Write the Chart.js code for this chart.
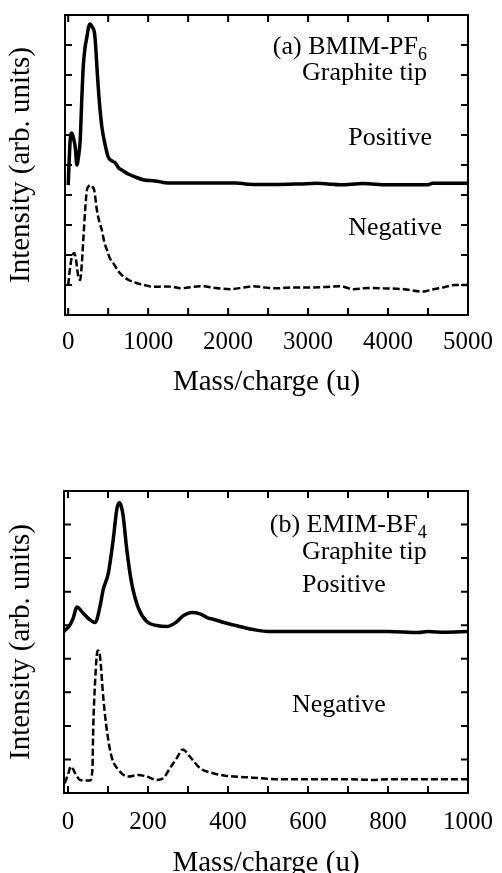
<!DOCTYPE html>
<html>
<head>
<meta charset="UTF-8">
<title>Mass spectra</title>
<script src="https://cdn.jsdelivr.net/npm/chart.js"></script>
<style>
  body { margin: 0; background: #fff; }
  canvas { position: absolute; left: 0; }
  #chartA { top: 0; }
  #chartB { top: 437px; }
</style>
</head>
<body>
<canvas id="chartA" width="502" height="437"></canvas>
<canvas id="chartB" width="502" height="436"></canvas>
<script>
// (a) BMIM-PF6, positive
const mzA_pos  = [0, 25, 46, 70, 88, 109, 130, 150, 170, 188, 210, 234, 255, 275, 300, 329, 345, 359, 390, 421, 460, 500, 540, 588, 630, 671, 750, 838, 950, 1088, 1250, 1500, 1800, 2100, 2250, 2625, 2900, 3110, 3250, 3400, 3690, 3990, 4200, 4490, 4560, 4800, 5000];
const intA_pos = [4.33, 5.83, 6.07, 5.85, 5.6, 5.0, 5.3, 5.83, 7.2, 8.27, 8.9, 9.27, 9.6, 9.7, 9.6, 9.4, 8.9, 8.27, 7.1, 6.27, 5.7, 5.27, 5.15, 5.07, 4.9, 4.83, 4.7, 4.6, 4.5, 4.47, 4.4, 4.4, 4.4, 4.4, 4.36, 4.35, 4.37, 4.39, 4.37, 4.34, 4.38, 4.34, 4.34, 4.34, 4.39, 4.39, 4.39];
// (a) BMIM-PF6, negative
const mzA_neg  = [0, 20, 46, 75, 100, 125, 150, 170, 191, 212, 234, 260, 284, 310, 325, 359, 390, 421, 450, 484, 520, 566, 630, 691, 770, 859, 950, 1063, 1200, 1313, 1400, 1650, 1850, 2025, 2200, 2317, 2450, 2610, 2800, 3025, 3200, 3400, 3567, 3750, 3940, 4200, 4440, 4550, 4690, 4840, 5000];
const intA_neg = [1.0, 1.5, 1.94, 2.07, 1.8, 1.3, 1.17, 1.7, 2.6, 3.5, 4.17, 4.3, 4.33, 4.25, 4.17, 3.5, 3.1, 2.83, 2.45, 2.17, 1.9, 1.72, 1.45, 1.28, 1.15, 1.06, 1.0, 0.94, 0.95, 0.94, 0.89, 0.96, 0.9, 0.86, 0.92, 0.96, 0.92, 0.89, 0.92, 0.92, 0.93, 0.96, 0.86, 0.9, 0.89, 0.86, 0.78, 0.85, 0.92, 1.0, 1.0];

// (b) EMIM-BF4, positive
const mzB_pos  = [-10, 5, 13, 22, 38, 55, 68, 80, 88, 101, 113, 122, 128, 133, 138, 147, 159, 176, 197, 222, 247, 268, 288, 309, 330, 351, 363, 390, 413, 440, 463, 505, 600, 700, 800, 876, 900, 943, 1000];
const intB_pos = [4.81, 5.01, 5.21, 5.54, 5.36, 5.16, 5.08, 5.56, 6.06, 6.56, 7.55, 8.45, 8.65, 8.55, 8.25, 7.25, 6.26, 5.51, 5.11, 4.99, 4.96, 5.07, 5.28, 5.38, 5.34, 5.21, 5.18, 5.08, 5.01, 4.93, 4.87, 4.81, 4.81, 4.81, 4.81, 4.78, 4.81, 4.79, 4.81];
// (b) EMIM-BF4, negative
const mzB_neg  = [-8, 1, 7, 18, 30, 55, 61, 63, 68, 74, 80, 88, 97, 109, 126, 151, 176, 197, 222, 238, 255, 272, 287, 305, 330, 363, 397, 447, 480, 520, 600, 700, 760, 800, 1000];
const intB_neg = [0.29, 0.59, 0.79, 0.59, 0.39, 0.37, 0.69, 1.88, 3.37, 4.25, 4.07, 2.87, 1.88, 1.08, 0.69, 0.49, 0.54, 0.49, 0.39, 0.44, 0.74, 1.04, 1.3, 1.08, 0.74, 0.59, 0.51, 0.47, 0.44, 0.41, 0.41, 0.41, 0.39, 0.41, 0.41];

// tick positions and labels
const xTicksA  = [0, 500, 1000, 1500, 2000, 2500, 3000, 3500, 4000, 4500, 5000];
const xLabelsA = [0, 1000, 2000, 3000, 4000, 5000];
const xTicksB  = [0, 100, 200, 300, 400, 500, 600, 700, 800, 900, 1000];
const xLabelsB = [0, 200, 400, 600, 800, 1000];
const yTicksA  = [1, 2, 3, 4, 5, 6, 7, 8, 9];
const yTicksB  = [1, 2, 3, 4, 5, 6, 7, 8];

const SERIF = '"Liberation Serif", "Times New Roman", serif';
Chart.defaults.color = '#000';
Chart.defaults.font.family = SERIF;

function pts(xs, ys) {
    return xs.map((x, i) => ({ x: x, y: ys[i] }));
}

// frame round the plot area, with inward ticks on all four sides
const framePlugin = {
    id: 'frame',
    afterDraw(chart) {
        const ctx = chart.ctx;
        const a = chart.chartArea;
        const xs = chart.scales.x, ys = chart.scales.y;
        const len = 7;
        ctx.save();
        ctx.strokeStyle = '#000';
        ctx.lineWidth = 2;
        ctx.strokeRect(a.left, a.top, a.right - a.left, a.bottom - a.top);
        ctx.beginPath();
        xs.ticks.forEach(t => {
            const px = xs.getPixelForValue(t.value);
            if (px <= a.left + 2 || px >= a.right - 2) return;
            ctx.moveTo(px, a.bottom); ctx.lineTo(px, a.bottom - len);
            ctx.moveTo(px, a.top); ctx.lineTo(px, a.top + len);
        });
        ys.ticks.forEach(t => {
            const py = ys.getPixelForValue(t.value);
            if (py <= a.top + 2 || py >= a.bottom - 2) return;
            ctx.moveTo(a.left, py); ctx.lineTo(a.left + len, py);
            ctx.moveTo(a.right, py); ctx.lineTo(a.right - len, py);
        });
        ctx.stroke();
        ctx.restore();
    }
};

// text labels inside the panel, placed in data units
function textPlugin(items) {
    return {
        id: 'panelText',
        afterDatasetsDraw(chart) {
            const ctx = chart.ctx;
            const xs = chart.scales.x, ys = chart.scales.y;
            ctx.save();
            ctx.fillStyle = '#000';
            ctx.textBaseline = 'alphabetic';
            items.forEach(it => {
                const px = xs.getPixelForValue(it.x);
                const py = ys.getPixelForValue(it.y);
                ctx.font = '26px ' + SERIF;
                const w1 = ctx.measureText(it.text).width;
                let w2 = 0;
                if (it.sub) {
                    ctx.font = '18px ' + SERIF;
                    w2 = ctx.measureText(it.sub).width;
                }
                const x0 = it.align === 'right' ? px - w1 - w2 : px;
                ctx.font = '26px ' + SERIF;
                ctx.textAlign = 'left';
                ctx.fillText(it.text, x0, py);
                if (it.sub) {
                    ctx.font = '18px ' + SERIF;
                    ctx.fillText(it.sub, x0 + w1, py + 6);
                }
            });
            ctx.restore();
        }
    };
}

function makePanel(id, opt) {
    const ctx = document.getElementById(id).getContext('2d');
    return new Chart(ctx, {
        type: 'line',
        data: {
            datasets: [
                {
                    label: 'Positive',
                    data: pts(opt.posX, opt.posY),
                    borderColor: '#000',
                    borderWidth: 3.5,
                    pointRadius: 0,
                    cubicInterpolationMode: 'monotone',
                    fill: false
                },
                {
                    label: 'Negative',
                    data: pts(opt.negX, opt.negY),
                    borderColor: '#000',
                    borderWidth: 2.5,
                    borderDash: [7, 3],
                    pointRadius: 0,
                    cubicInterpolationMode: 'monotone',
                    fill: false
                }
            ]
        },
        options: {
            responsive: false,
            animation: false,
            devicePixelRatio: 1,
            layout: { padding: { top: opt.padTop, right: 34, left: 0, bottom: 0 } },
            plugins: {
                legend: { display: false },
                tooltip: { enabled: false }
            },
            scales: {
                x: {
                    type: 'linear',
                    min: opt.xMin,
                    max: opt.xMax,
                    bounds: 'data',
                    grid: { display: false },
                    border: { display: false },
                    ticks: {
                        autoSkip: false,
                        maxRotation: 0,
                        padding: opt.tickPad,
                        font: { size: 25 },
                        callback: v => opt.xLabels.includes(v) ? String(v) : ''
                    },
                    afterBuildTicks: s => { s.ticks = opt.xTicks.map(v => ({ value: v })); },
                    title: {
                        display: true,
                        text: 'Mass/charge (u)',
                        font: { size: 29 },
                        padding: { top: 0, bottom: opt.titlePad }
                    },
                    afterFit: s => { s.height = opt.xHeight; }
                },
                y: {
                    type: 'linear',
                    min: 0,
                    max: opt.yMax,
                    grid: { display: false },
                    border: { display: false },
                    ticks: { display: false },
                    afterBuildTicks: s => { s.ticks = opt.yTicks.map(v => ({ value: v })); },
                    title: {
                        display: true,
                        text: 'Intensity (arb. units)',
                        font: { size: 29 },
                        padding: { top: 4, bottom: 0 }
                    },
                    afterFit: s => { s.width = opt.yWidth; }
                }
            }
        },
        plugins: [framePlugin, textPlugin(opt.texts)]
    });
}

makePanel('chartA', {
    posX: mzA_pos, posY: intA_pos, negX: mzA_neg, negY: intA_neg,
    xMin: -40, xMax: 5000, xTicks: xTicksA, xLabels: xLabelsA, yMax: 10, yTicks: yTicksA,
    padTop: 15, xHeight: 122, yWidth: 65, tickPad: 4, titlePad: 37,
    texts: [
        { text: '(a) BMIM-PF', sub: '6', x: 4487, y: 8.7, align: 'right' },
        { text: 'Graphite tip', x: 4487, y: 7.82, align: 'right' },
        { text: 'Positive', x: 4550, y: 5.67, align: 'right' },
        { text: 'Negative', x: 4675, y: 2.67, align: 'right' }
    ]
});

makePanel('chartB', {
    posX: mzB_pos, posY: intB_pos, negX: mzB_neg, negY: intB_neg,
    xMin: -10, xMax: 1000, xTicks: xTicksB, xLabels: xLabelsB, yMax: 9, yTicks: yTicksB,
    padTop: 54, xHeight: 80, yWidth: 64, tickPad: 6, titlePad: -8,
    texts: [
        { text: '(b) EMIM-BF', sub: '4', x: 897, y: 7.78, align: 'right' },
        { text: 'Graphite tip', x: 897, y: 6.98, align: 'right' },
        { text: 'Positive', x: 585, y: 5.99, align: 'left' },
        { text: 'Negative', x: 560, y: 2.41, align: 'left' }
    ]
});
</script>
</body>
</html>
